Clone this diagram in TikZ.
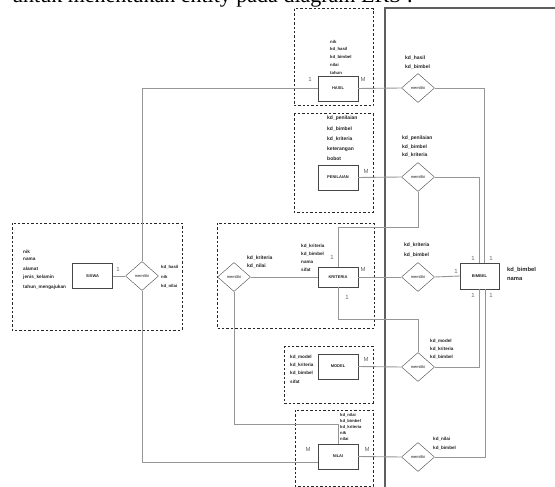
\documentclass[tikz,border=0pt]{standalone}
\usepackage{fontspec}
\setmainfont{Liberation Serif}
\newfontfamily\erdfont{Liberation Sans}
\usepackage{xcolor}
\definecolor{wire}{RGB}{150,150,150}
\definecolor{edge}{RGB}{70,70,70}
\definecolor{ink}{RGB}{35,35,35}
\definecolor{pageline}{RGB}{95,95,95}
\usepackage{tikz}
\usetikzlibrary{shapes.geometric,calc}

\begin{document}
\begin{tikzpicture}[x=1pt,y=-1pt,
  entity/.style={rectangle,draw=edge,fill=white,
                 minimum width=40pt,minimum height=25pt,inner sep=0pt,
                 font=\erdfont\fontsize{4}{4}\selectfont\bfseries,text=ink},
  rel/.style={diamond,draw=edge,fill=white,
              minimum width=33pt,minimum height=29pt,inner sep=0pt,
              font=\erdfont\fontsize{4}{4}\selectfont,text=ink},
  attr/.style={anchor=west,inner sep=0pt,text=ink,
               font=\erdfont\fontsize{5}{5}\selectfont\bfseries},
  card/.style={inner sep=0pt,text=black!60,
               font=\erdfont\fontsize{6}{6}\selectfont},
  link/.style={draw=wire,line width=0.9pt},
  grp/.style={draw=black!85,line width=1pt,dash pattern=on 2.4pt off 2pt},
]
  \useasboundingbox (0,0) rectangle (555,487);

  %% page text and page frame
  \node[anchor=base west,inner sep=0pt,font=\fontsize{22}{24}\selectfont](title)
    at (12,3) {untuk menentukan entity pada diagram ERS :};
  \draw[pageline,line width=1.2pt] (385,490) -- (385,8) -- (558,8);

  %% dashed groups
  \draw[grp] (294,9)   rectangle (373,106);
  \draw[grp] (294,114) rectangle (373,212);
  \draw[grp] (217,223) rectangle (374,328);
  \draw[grp] (12,223)  rectangle (182,330);
  \draw[grp] (284,346) rectangle (373,403);
  \draw[grp] (295,410) rectangle (373,486);

  %% entities
  \node[entity](hasil)     at (338,88.5) {HASIL};
  \node[entity](penilaian) at (338,177.5) {PENILAIAN};
  \node[entity,minimum height=20pt](kriteria) at (338,277) {KRITERIA};
  \node[entity](siswa)     at (92.5,276) {SISWA};
  \node[entity](model)     at (338,366.5) {MODEL};
  \node[entity](nilai)     at (338,456.5) {NILAI};
  \node[entity,minimum width=39pt,minimum height=26pt](bimbel) at (479.5,276) {BIMBEL};

  %% relations
  \node[rel](dh)  at (418,88)  {memiliki};
  \node[rel](dp)  at (418,177) {memiliki};
  \node[rel](dk)  at (418,277) {memiliki};
  \node[rel](dkn) at (234,277) {memiliki};
  \node[rel](ds)  at (142,276) {memiliki};
  \node[rel](dm)  at (418,367) {memiliki};
  \node[rel](dn)  at (418,457) {memiliki};

  %% connectors
  \draw[link] (hasil.east) -- (dh.west);
  \draw[link] (dh.east) -| ([xshift=5pt]bimbel.north);
  \draw[link] (ds.north) |- (hasil.west);
  \draw[link] (penilaian.east) -- (dp.west);
  \draw[link] (dp.east) -| (bimbel.north);
  \draw[link] (dp.south) -- ++(0,36) -| (kriteria.north);
  \draw[link] (kriteria.east) -- (dk.west);
  \draw[link] (dk.east) -- (bimbel.west);
  \draw[link] (kriteria.west) -- (dkn.east);
  \draw[link] (kriteria.south) -- ++(0,32) -| (dm.north);
  \draw[link] (dkn.south) -- ++(0,133) -| (nilai.north);
  \draw[link] (siswa.east) -- (ds.west);
  \draw[link] (ds.south) |- ([yshift=-6pt]nilai.west);
  \draw[link] (model.east) -- (dm.west);
  \draw[link] (dm.east) -| (bimbel.south);
  \draw[link] (nilai.east) -- (dn.west);
  \draw[link] (dn.east) -| ([xshift=6pt]bimbel.south);

  %% cardinalities
  \foreach \xx/\yy/\lbl [count=\i] in {310/79/1, 363/79/M, 366/171/M,
      332/257/1, 347/297/1, 363/269/M, 473/258/1, 491/258/1, 473/295/1,
      491/295/1, 456/271/1, 118/269/1, 366/359/M, 308/449/M, 367/449/M}{%
    \node[card](c\i) at (\xx,\yy) {\lbl};
  }

  %% attributes
  \foreach \yy/\txt [count=\i] in {42/nik, 49.5/kd\_hasil, 57/kd\_bimbel,
      65/nilai, 72.5/tahun}{%
    \node[attr,font=\erdfont\fontsize{4.3}{4.3}\selectfont\bfseries](ah\i) at (330,\yy) {\txt};
  }
  \foreach \yy/\txt [count=\i] in {118.5/kd\_penilaian, 128.5/kd\_bimbel,
      139/kd\_kriteria, 149/keterangan, 159/bobot}{%
    \node[attr](ap\i) at (327,\yy) {\txt};
  }
  \foreach \yy/\txt [count=\i] in {246/kd\_kriteria, 254/kd\_bimbel,
      262/nama, 269.5/sifat}{%
    \node[attr,font=\erdfont\fontsize{4.6}{4.6}\selectfont\bfseries](ak\i) at (301,\yy) {\txt};
  }
  \foreach \yy/\txt [count=\i] in {252/nik, 259/nama, 269/alamat,
      277/jenis\_kelamin, 287/tahun\_mengajukan}{%
    \node[attr,font=\erdfont\fontsize{4.7}{4.7}\selectfont\bfseries](as\i) at (23,\yy) {\txt};
  }
  \foreach \yy/\txt [count=\i] in {357/kd\_model, 365/kd\_kriteria,
      373/kd\_bimbel, 382/sifat}{%
    \node[attr,font=\erdfont\fontsize{4.6}{4.6}\selectfont\bfseries](am\i) at (290,\yy) {\txt};
  }
  \foreach \yy/\txt [count=\i] in {415/kd\_nilai, 421/kd\_bimbel,
      427/kd\_kriteria, 433/nik, 439/nilai}{%
    \node[attr,font=\erdfont\fontsize{4.2}{4.2}\selectfont\bfseries](an\i) at (340,\yy) {\txt};
  }
  \foreach \yy/\txt [count=\i] in {270/kd\_bimbel, 279/nama}{%
    \node[attr,font=\erdfont\fontsize{5.8}{5.8}\selectfont\bfseries](ab\i) at (507,\yy) {\txt};
  }
  %% relation attributes
  \foreach \yy/\txt [count=\i] in {58/kd\_hasil, 67/kd\_bimbel}{%
    \node[attr](rh\i) at (405,\yy) {\txt};
  }
  \foreach \yy/\txt [count=\i] in {138/kd\_penilaian, 146.5/kd\_bimbel,
      155/kd\_kriteria}{%
    \node[attr](rp\i) at (402,\yy) {\txt};
  }
  \foreach \yy/\txt [count=\i] in {245/kd\_kriteria, 255/kd\_bimbel}{%
    \node[attr](rk\i) at (404,\yy) {\txt};
  }
  \foreach \yy/\txt [count=\i] in {258/kd\_kriteria, 266/kd\_nilai}{%
    \node[attr](rkn\i) at (247,\yy) {\txt};
  }
  \foreach \yy/\txt [count=\i] in {267/kd\_hasil, 277/nik, 286/kd\_nilai}{%
    \node[attr,font=\erdfont\fontsize{4.3}{4.3}\selectfont\bfseries](rs\i) at (161,\yy) {\txt};
  }
  \foreach \yy/\txt [count=\i] in {341/kd\_model, 349/kd\_kriteria,
      357/kd\_bimbel}{%
    \node[attr,font=\erdfont\fontsize{4.6}{4.6}\selectfont\bfseries](rm\i) at (430,\yy) {\txt};
  }
  \foreach \yy/\txt [count=\i] in {439/kd\_nilai, 448/kd\_bimbel}{%
    \node[attr,font=\erdfont\fontsize{4.6}{4.6}\selectfont\bfseries](rn\i) at (433,\yy) {\txt};
  }
\end{tikzpicture}
\end{document}
